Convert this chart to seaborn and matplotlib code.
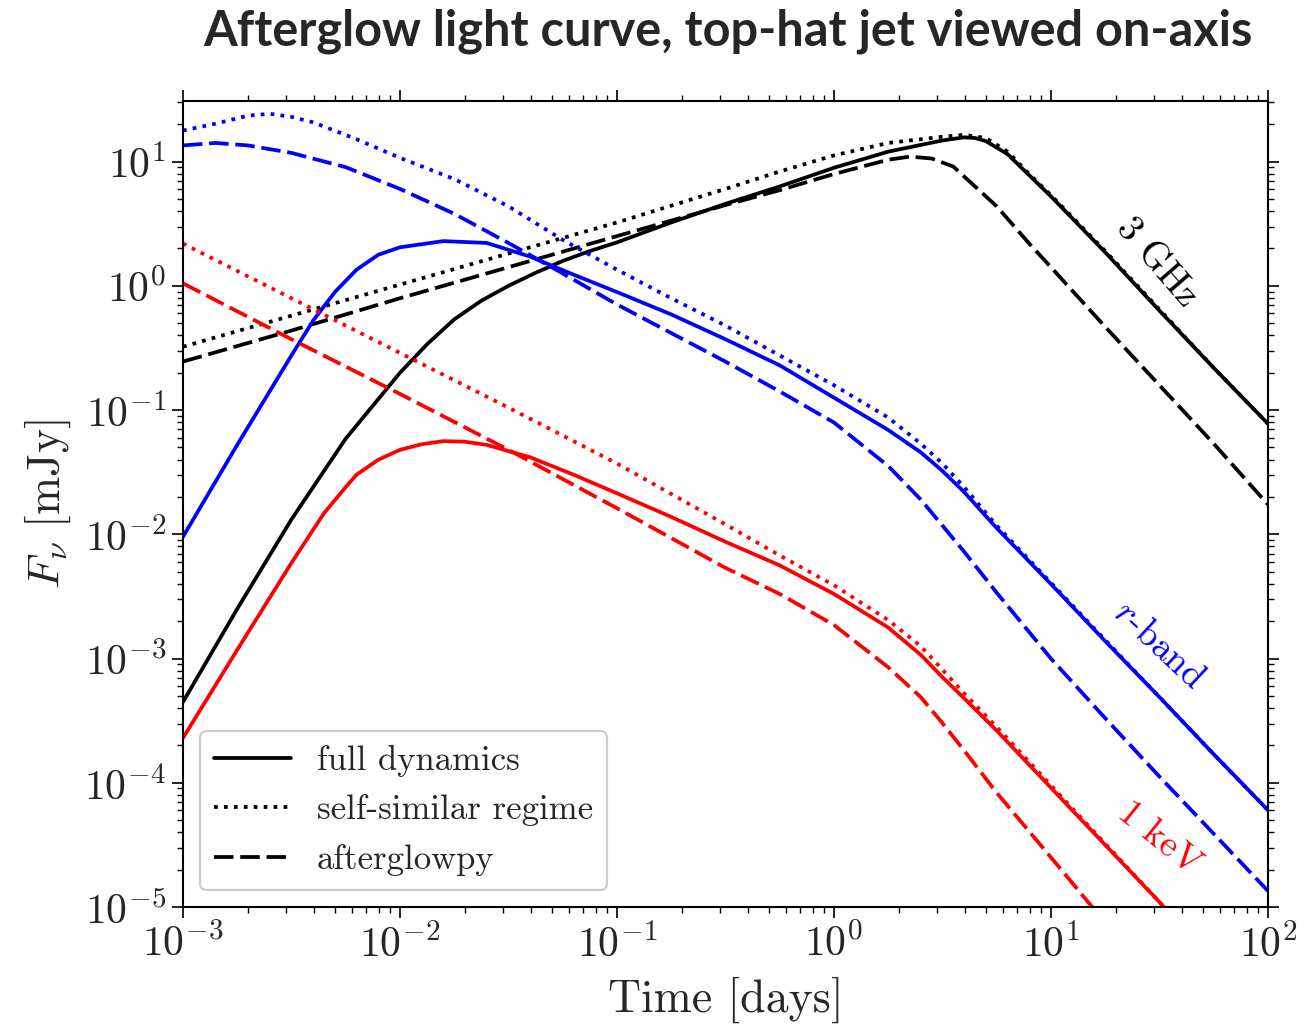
import numpy as np
import pandas as pd
import matplotlib
matplotlib.use("Agg")
import matplotlib.pyplot as plt
from matplotlib.lines import Line2D
from matplotlib.ticker import LogLocator, NullFormatter, FixedLocator
import seaborn as sns

# ---- data (log10 time [days], log10 flux [mJy]) ----
radio_full_logt = [-3, -2.75, -2.5, -2.25, -2.0, -1.875, -1.75, -1.625, -1.5, -1.375, -1.25,
                   -1.125, -1.0, -0.875, -0.75, -0.5, -0.25, 0.0, 0.25, 0.5, 0.6, 0.65, 0.7,
                   0.8, 0.9, 1.0, 1.25, 1.5, 1.75, 2.0]
radio_full_logF = [-3.35, -2.60, -1.88, -1.23, -0.70, -0.47, -0.27, -0.12, 0.0, 0.105, 0.20,
                   0.28, 0.35, 0.43, 0.51, 0.66, 0.80, 0.95, 1.08, 1.17, 1.195, 1.19, 1.165,
                   1.06, 0.89, 0.72, 0.27, -0.20, -0.66, -1.11]

radio_ss_logt = [-3, -2.5, -2.0, -1.5, -1.0, -0.5, -0.25, 0.0, 0.25, 0.5, 0.6, 0.7, 0.8, 0.9,
                 1.0, 1.25, 1.5, 1.75, 2.0]
radio_ss_logF = [-0.49, -0.24, 0.01, 0.26, 0.51, 0.78, 0.92, 1.05, 1.15, 1.20, 1.215, 1.19, 1.08,
                 0.90, 0.73, 0.28, -0.19, -0.66, -1.11]

radio_ag_logt = [-3, -2.5, -2.0, -1.5, -1.0, -0.5, -0.25, 0.0, 0.25, 0.35, 0.45, 0.55, 0.65,
                 0.75, 0.9, 1.0, 1.25, 1.5, 1.75, 2.0]
radio_ag_logF = [-0.61, -0.36, -0.10, 0.15, 0.40, 0.65, 0.77, 0.90, 1.015, 1.04, 1.025, 0.96, 0.80,
                 0.64, 0.34, 0.15, -0.33, -0.80, -1.27, -1.76]

opt_full_logt = [-3, -2.75, -2.5, -2.4, -2.3, -2.2, -2.1, -2.0, -1.8, -1.6, -1.4, -1.2, -1.0,
                 -0.75, -0.5, -0.25, 0.0, 0.25, 0.4, 0.5, 0.6, 0.75, 1.0, 1.25, 1.5, 1.75, 2.0]
opt_full_logF = [-2.02, -1.28, -0.56, -0.28, -0.05, 0.13, 0.25, 0.31, 0.36, 0.345, 0.235, 0.09,
                 -0.05, -0.23, -0.43, -0.64, -0.90, -1.16, -1.34, -1.49, -1.66, -1.95, -2.40,
                 -2.86, -3.31, -3.77, -4.22]

opt_ss_logt = [-3, -2.85, -2.7, -2.6, -2.5, -2.4, -2.2, -2.0, -1.75, -1.5, -1.25, -1.0, -0.75,
               -0.5, -0.25, 0.0, 0.25, 0.4, 0.5, 0.6, 0.75, 1.0, 1.25, 1.5, 1.75, 2.0]
opt_ss_logF = [1.25, 1.305, 1.37, 1.385, 1.36, 1.316, 1.18, 1.03, 0.86, 0.64, 0.37, 0.13, -0.10,
               -0.32, -0.56, -0.80, -1.06, -1.27, -1.43, -1.62, -1.93, -2.39, -2.85, -3.31,
               -3.77, -4.22]

opt_ag_logt = [-3, -2.85, -2.7, -2.5, -2.25, -2.0, -1.75, -1.5, -1.25, -1.0, -0.75, -0.5, -0.25,
               0.0, 0.25, 0.4, 0.5, 0.6, 0.75, 1.0, 1.25, 1.5, 1.75, 2.0]
opt_ag_logF = [1.13, 1.15, 1.13, 1.07, 0.955, 0.78, 0.58, 0.345, 0.10, -0.15, -0.38, -0.61, -0.85,
               -1.10, -1.45, -1.72, -1.93, -2.14, -2.47, -3.00, -3.48, -3.95, -4.41, -4.87]

xr_full_logt = [-3, -2.75, -2.5, -2.35, -2.25, -2.2, -2.1, -2.0, -1.9, -1.8, -1.7, -1.6, -1.4,
                -1.2, -1.0, -0.75, -0.5, -0.25, 0.0, 0.25, 0.4, 0.5, 0.6, 0.75, 1.0, 1.25, 1.5,
                1.6]
xr_full_logF = [-3.64, -2.93, -2.23, -1.83, -1.62, -1.52, -1.40, -1.32, -1.275, -1.25, -1.255,
                -1.28, -1.38, -1.52, -1.67, -1.86, -2.06, -2.25, -2.48, -2.75, -2.97, -3.15,
                -3.32, -3.58, -4.04, -4.50, -4.96, -5.15]

xr_ss_logt = [-3, -2.5, -2.0, -1.5, -1.0, -0.5, -0.25, 0.0, 0.25, 0.4, 0.5, 0.6, 0.75, 1.0, 1.25,
              1.5, 1.6]
xr_ss_logF = [0.34, -0.10, -0.54, -0.98, -1.43, -1.92, -2.17, -2.41, -2.69, -2.90, -3.09, -3.28,
              -3.55, -4.02, -4.49, -4.96, -5.15]

xr_ag_logt = [-3, -2.5, -2.0, -1.5, -1.0, -0.5, -0.25, 0.0, 0.25, 0.4, 0.5, 0.6, 0.75, 1.0, 1.2]
xr_ag_logF = [0.02, -0.43, -0.87, -1.32, -1.79, -2.27, -2.48, -2.73, -3.07, -3.31, -3.52, -3.74,
              -4.08, -4.60, -5.02]

x_major_ticks = [1e-3, 1e-2, 1e-1, 1e0, 1e1, 1e2]
y_major_ticks = [1e-5, 1e-4, 1e-3, 1e-2, 1e-1, 1e0, 1e1]

bands = ["3 GHz", "r-band", "1 keV"]
models = ["full dynamics", "self-similar regime", "afterglowpy"]
band_colors = {"3 GHz": "black", "r-band": "blue", "1 keV": "red"}
model_dashes = {"full dynamics": "", "self-similar regime": (1, 1.65), "afterglowpy": (5.2, 1.8)}

series = {
    ("3 GHz", "full dynamics"): (radio_full_logt, radio_full_logF),
    ("3 GHz", "self-similar regime"): (radio_ss_logt, radio_ss_logF),
    ("3 GHz", "afterglowpy"): (radio_ag_logt, radio_ag_logF),
    ("r-band", "full dynamics"): (opt_full_logt, opt_full_logF),
    ("r-band", "self-similar regime"): (opt_ss_logt, opt_ss_logF),
    ("r-band", "afterglowpy"): (opt_ag_logt, opt_ag_logF),
    ("1 keV", "full dynamics"): (xr_full_logt, xr_full_logF),
    ("1 keV", "self-similar regime"): (xr_ss_logt, xr_ss_logF),
    ("1 keV", "afterglowpy"): (xr_ag_logt, xr_ag_logF),
}

rows = []
for (band, model), (lt, lf) in series.items():
    for a, b in zip(lt, lf):
        rows.append({"t": 10.0 ** a, "F": 10.0 ** b, "band": band, "model": model})
df = pd.DataFrame(rows)

# ---- style ----
sns.set_style("ticks")
plt.rcParams.update({
    "font.family": "serif",
    "font.serif": ["cmr10"],
    "mathtext.fontset": "cm",
    "axes.formatter.use_mathtext": True,
    "axes.linewidth": 1.5,
    "axes.edgecolor": "black",
})

fig = plt.figure(figsize=(13.05, 10.27), dpi=100)
ax = fig.add_axes([0.1402, 0.1168, 0.8314, 0.7853])

sns.lineplot(data=df, x="t", y="F", hue="band", style="model",
             hue_order=bands, style_order=models,
             palette=band_colors, dashes=model_dashes,
             estimator=None, sort=True, linewidth=2.7, legend=False, ax=ax)

ax.set_xscale("log")
ax.set_yscale("log")
ax.set_xlim(1e-3, 1e2)
ax.set_ylim(1e-5, 31)

ax.xaxis.set_major_locator(FixedLocator(x_major_ticks))
ax.yaxis.set_major_locator(FixedLocator(y_major_ticks))
ax.xaxis.set_minor_locator(LogLocator(base=10, subs=np.arange(2, 10), numticks=40))
ax.yaxis.set_minor_locator(LogLocator(base=10, subs=np.arange(2, 10), numticks=40))
ax.xaxis.set_minor_formatter(NullFormatter())
ax.yaxis.set_minor_formatter(NullFormatter())

ax.tick_params(which="both", direction="out", top=True, right=True, color="black")
ax.tick_params(which="major", length=8, width=1.2, labelsize=30, pad=4)
ax.tick_params(which="minor", length=4, width=1.0)

ax.set_xlabel("Time [days]", fontsize=33, labelpad=9)
ax.set_ylabel(r"$F_\nu\ [\mathrm{mJy}]$", fontsize=33, labelpad=8)

# curve labels
ax.text(30.8, 1.54, "3 GHz", color="black", fontsize=27, rotation=-49,
        ha="center", va="center", rotation_mode="anchor")
ax.text(31.5, 1.28e-3, r"$r$-band", color="blue", fontsize=27, rotation=-43,
        ha="center", va="center", rotation_mode="anchor")
ax.text(31.5, 3.58e-5, "1 keV", color="red", fontsize=27, rotation=-39,
        ha="center", va="center", rotation_mode="anchor")

handles = [Line2D([0], [0], color="black", lw=2.7, linestyle="-"),
           Line2D([0], [0], color="black", lw=2.7, dashes=model_dashes["self-similar regime"]),
           Line2D([0], [0], color="black", lw=2.7, dashes=model_dashes["afterglowpy"])]
leg = ax.legend(handles, models, loc="lower left", fontsize=25, handlelength=2.2,
                handletextpad=0.75, labelspacing=0.5, borderaxespad=0.5,
                frameon=True, fancybox=True, framealpha=1.0)
leg.get_frame().set_edgecolor("#cccccc")
leg.get_frame().set_linewidth(1.6)

fig.text(0.558, 1 - 45 / 1027, "Afterglow light curve, top-hat jet viewed on-axis",
         fontfamily="Lato", fontweight="bold", fontsize=35, ha="center", va="baseline")

fig.savefig("out.png", dpi=100, facecolor="white")
